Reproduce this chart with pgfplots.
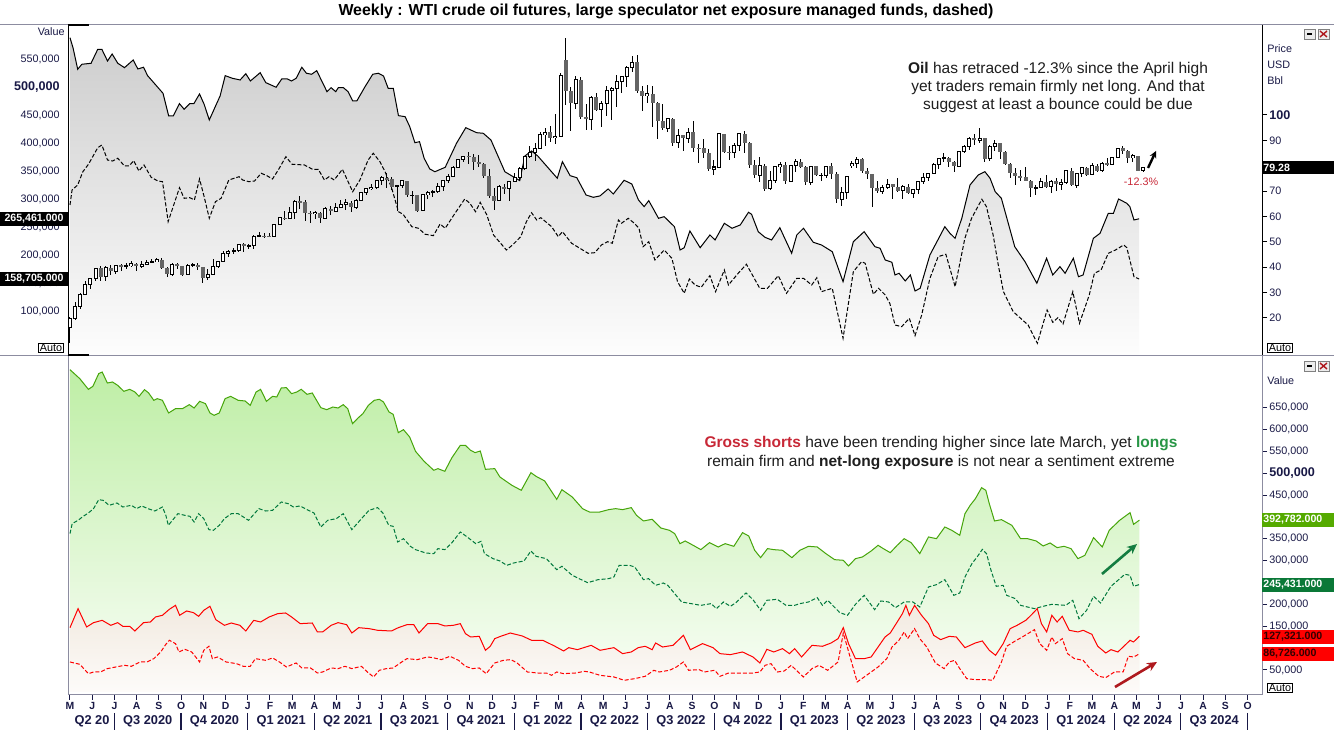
\documentclass[border=0pt]{standalone}
\usepackage{pgfplots}
\pgfplotsset{compat=1.18}
\usepackage{pgfplotstable}
\usetikzlibrary{arrows.meta}
\usepackage{fontspec}
\setmainfont{Liberation Sans}
\definecolor{navy}{RGB}{25,25,70}
\definecolor{fillTop}{RGB}{205,205,205}
\definecolor{fillBot}{RGB}{253,253,253}
\definecolor{gTop}{RGB}{190,238,165}
\definecolor{gBot}{RGB}{250,254,248}
\definecolor{rTop}{RGB}{242,234,224}
\definecolor{rBot}{RGB}{253,251,249}
\definecolor{glong}{RGB}{70,165,10}
\definecolor{gdash}{RGB}{0,120,60}
\definecolor{gbox}{RGB}{85,170,0}
\definecolor{gbox2}{RGB}{10,120,55}
\definecolor{annRed}{RGB}{200,40,55}
\definecolor{annGreen}{RGB}{40,150,70}
\definecolor{cgray}{RGB}{100,100,100}
\definecolor{frame}{RGB}{140,140,160}
\definecolor{annText}{RGB}{30,30,30}
\definecolor{arrRed}{RGB}{175,25,30}
\definecolor{arrGreen}{RGB}{20,125,65}
\newcommand{\ftick}{\fontsize{5.4pt}{6pt}\selectfont}
\newcommand{\fbig}{\fontsize{6.3pt}{7pt}\selectfont\bfseries}
\newcommand{\fmon}{\fontsize{5.2pt}{6pt}\selectfont\bfseries}
\newcommand{\fq}{\fontsize{6.4pt}{7pt}\selectfont\bfseries}
\newcommand{\fann}{\fontsize{7.75pt}{9pt}\selectfont}
\newcommand{\fannb}{\fontsize{7.75pt}{9.5pt}\selectfont}
\newcommand{\ftitle}{\fontsize{7.95pt}{9pt}\selectfont\bfseries}
\newcommand{\flab}{\fontsize{5.3pt}{6pt}\selectfont\bfseries}

\pgfplotstableread{
i o h l c
0 16.3 20.5 10.1 19.8
1 19.8 26.3 19.1 24.7
2 24.7 30.0 23.5 29.4
3 29.4 34.7 29.0 33.3
4 33.3 35.9 31.6 35.5
5 35.5 39.8 34.7 39.6
6 39.6 40.4 34.5 36.3
7 36.3 40.4 34.7 39.8
8 39.8 41.0 37.1 38.5
9 38.5 41.0 37.4 40.7
10 40.7 41.4 38.7 40.6
11 40.6 41.5 39.5 40.6
12 40.6 42.5 40.2 41.3
13 41.3 41.7 38.7 40.3
14 40.3 42.5 39.8 41.2
15 41.2 43.0 41.0 42.0
16 42.0 43.4 41.5 42.3
17 42.3 43.8 42.2 43.0
18 43.0 43.5 39.2 39.8
19 39.8 39.9 36.1 37.3
20 37.3 41.5 36.5 41.1
21 41.1 41.7 39.2 40.3
22 40.3 40.6 36.6 37.1
23 37.1 41.3 37.0 40.6
24 40.6 41.5 39.9 40.9
25 40.9 41.8 39.1 39.9
26 39.9 40.0 33.6 35.8
27 35.8 39.2 34.9 37.1
28 37.1 43.1 37.0 40.1
29 40.1 42.5 39.8 42.2
30 42.2 46.3 42.1 45.5
31 45.5 46.7 43.9 46.3
32 46.3 47.7 45.3 46.6
33 46.6 49.3 46.2 49.1
34 49.1 49.4 46.2 48.2
35 48.2 49.0 47.2 48.5
36 48.5 52.8 47.3 52.2
37 52.2 53.9 51.8 52.4
38 52.4 53.6 51.5 52.3
39 52.3 53.5 51.8 52.2
40 52.2 57.0 52.1 56.9
41 56.9 59.8 56.6 59.5
42 59.5 62.3 58.6 59.2
43 59.2 63.8 59.1 61.5
44 61.5 66.4 59.2 66.1
45 66.1 68.0 63.1 65.6
46 65.6 66.4 58.3 61.4
47 61.4 62.0 57.3 61.0
48 61.0 62.3 58.9 61.5
49 61.5 61.6 57.6 59.3
50 59.3 63.7 58.9 63.1
51 63.1 64.0 60.6 62.1
52 62.1 65.5 61.6 63.6
53 63.6 66.5 63.2 64.9
54 64.9 66.7 62.6 65.4
55 65.4 66.0 61.6 63.6
56 63.6 67.0 63.0 66.3
57 66.3 69.8 66.0 69.6
58 69.6 71.0 68.4 70.9
59 70.9 72.9 70.3 71.6
60 71.6 74.2 71.0 74.1
61 74.1 76.0 72.6 75.2
62 75.2 77.0 71.2 74.6
63 74.6 75.5 70.4 71.8
64 71.8 72.5 62.0 72.1
65 72.1 74.0 71.2 74.0
66 74.0 74.1 67.5 68.3
67 68.3 69.9 65.0 68.4
68 68.4 68.5 61.7 62.3
69 62.3 69.0 62.2 68.7
70 68.7 70.0 67.0 69.3
71 69.3 70.4 67.6 69.7
72 69.7 73.1 69.4 72.0
73 72.0 74.0 69.9 74.0
74 74.0 76.7 73.2 75.9
75 75.9 79.8 75.6 79.4
76 79.4 82.6 79.0 82.3
77 82.3 84.0 81.6 83.8
78 83.8 85.4 80.5 83.6
79 83.6 84.5 78.3 81.3
80 81.3 84.1 79.4 80.8
81 80.8 81.2 75.3 76.1
82 76.1 78.8 67.4 68.2
83 68.2 71.4 62.4 66.3
84 66.3 72.4 66.1 71.7
85 71.7 72.9 69.0 70.9
86 70.9 73.9 66.1 73.8
87 73.8 77.1 73.4 75.2
88 75.2 79.5 74.3 78.9
89 78.9 84.0 78.2 83.8
90 83.8 87.9 82.9 85.1
91 85.1 88.8 81.8 86.8
92 86.8 93.2 86.6 92.3
93 92.3 94.7 87.6 93.1
94 93.1 95.8 89.2 91.1
95 91.1 100.5 88.6 91.6
96 91.6 116.6 91.6 115.7
97 121.5 130.5 104.0 109.3
98 109.3 110.9 93.5 104.7
99 104.7 115.4 102.2 113.9
100 113.9 114.8 98.4 99.3
101 99.3 104.2 93.9 98.3
102 98.3 107.4 94.0 107.0
103 107.0 108.5 101.5 102.1
104 102.1 105.5 95.3 104.7
105 104.7 111.4 99.6 109.8
106 109.8 110.9 98.2 110.5
107 110.5 115.6 103.2 113.2
108 113.2 115.2 108.6 115.1
109 115.1 119.4 111.2 118.9
110 118.9 123.2 116.8 120.7
111 120.7 123.7 108.5 109.6
112 109.6 111.5 101.5 107.6
113 107.6 112.0 104.6 108.4
114 108.4 111.5 95.1 104.8
115 104.8 105.0 90.6 97.6
116 97.6 104.4 94.0 94.7
117 94.7 98.9 93.3 98.6
118 98.6 99.0 87.8 89.0
119 89.0 94.6 87.0 92.1
120 92.1 92.1 85.7 90.8
121 90.8 95.0 89.0 93.1
122 93.1 97.7 85.5 86.9
123 86.9 88.7 81.2 86.8
124 86.8 90.4 83.1 85.1
125 85.1 86.7 78.1 78.7
126 78.7 82.1 76.3 79.5
127 79.5 93.0 79.3 92.6
128 92.6 92.7 85.2 85.6
129 85.6 87.8 82.1 85.1
130 85.1 89.0 82.9 87.9
131 87.9 92.8 85.8 92.6
132 92.6 93.7 85.0 89.0
133 89.0 89.4 79.3 80.1
134 80.1 82.3 75.3 76.3
135 76.3 83.3 73.6 80.0
136 80.0 80.6 70.1 71.0
137 71.0 77.9 70.3 74.3
138 74.3 80.0 73.3 79.6
139 79.6 81.5 77.1 80.3
140 80.3 81.5 72.7 73.8
141 73.8 80.2 73.5 79.9
142 79.9 82.5 77.6 81.6
143 81.6 82.7 79.2 79.7
144 79.7 79.9 72.6 73.4
145 73.4 80.0 72.5 79.7
146 79.7 80.0 75.8 76.3
147 76.3 77.0 73.8 76.3
148 76.3 80.0 75.1 79.7
149 79.7 81.0 74.9 76.7
150 76.7 77.4 65.2 66.7
151 66.7 71.7 64.1 69.3
152 69.3 75.7 66.7 75.7
153 80.0 81.8 79.0 80.7
154 80.7 83.5 79.0 82.5
155 82.5 82.9 77.1 77.9
156 77.9 79.1 74.8 76.8
157 76.8 76.9 63.6 71.3
158 71.3 73.9 69.4 70.0
159 70.0 72.6 69.0 71.6
160 71.6 74.7 70.9 72.7
161 72.7 73.0 67.0 71.7
162 71.7 75.1 69.5 70.2
163 70.2 72.4 66.8 71.8
164 71.8 72.7 68.8 69.2
165 69.2 70.9 67.1 70.6
166 70.6 74.0 69.0 73.9
167 73.9 77.3 72.8 75.4
168 75.4 77.3 73.9 77.1
169 77.1 80.9 76.8 80.6
170 80.6 83.0 78.8 82.8
171 82.8 84.9 81.5 83.2
172 83.2 83.5 79.4 81.3
173 81.3 81.8 77.6 79.8
174 79.8 85.9 79.8 85.6
175 85.6 88.1 85.1 87.5
176 87.5 91.2 86.3 90.8
177 90.8 92.4 88.1 90.0
178 90.0 95.0 88.9 90.8
179 90.8 91.1 81.5 82.8
180 82.8 88.0 82.0 87.7
181 87.7 90.0 85.8 88.8
182 88.8 89.0 82.8 85.5
183 85.5 86.0 80.1 80.5
184 80.5 81.0 75.3 77.2
185 77.2 79.1 72.4 75.9
186 75.9 78.2 73.8 75.5
187 75.5 79.7 73.8 74.1
188 74.1 74.2 67.7 71.2
189 71.2 72.6 68.3 71.4
190 71.4 75.0 71.3 73.6
191 73.6 76.2 71.4 71.7
192 71.7 74.2 69.3 73.8
193 73.8 75.3 70.1 72.7
194 72.7 74.7 70.6 73.4
195 73.4 78.2 72.8 78.0
196 78.0 79.3 72.0 72.3
197 72.3 77.0 71.4 76.8
198 76.8 79.3 75.6 79.2
199 79.2 79.6 75.8 76.5
200 76.5 80.9 76.3 80.0
201 80.0 80.6 77.5 78.0
202 78.0 81.5 77.4 81.0
203 81.0 83.1 80.0 80.6
204 80.6 83.5 80.2 83.2
205 83.2 87.1 83.1 86.9
206 86.9 87.7 84.6 85.7
207 85.7 86.2 81.2 83.1
208 83.1 84.5 81.5 83.9
209 83.9 84.0 77.9 78.1
210 78.1 79.6 77.5 79.3
}\candles

\pgfplotstableread{
x v
0 588.9
0.6 570.5
1.5 532.5
2.3 541.4
4.1 543.2
5.4 568.2
6.2 568.2
7.3 547.3
8.2 559.8
9.3 543.2
10.6 535.4
12.3 549.1
13.2 533.0
14.3 536.1
15.1 521.1
18.1 489.6
19.2 449.1
20.1 449.1
21.3 471.1
22.2 461.1
23.3 471.1
24.1 471.1
25.2 488.4
26.1 470.0
27.1 442.0
29.2 484.8
30.2 521.1
31.6 516.4
33.1 513.4
34.2 524.6
35.1 511.6
37.0 526.4
38.1 508.6
40.1 500.4
41.2 515.2
42.3 515.2
43.1 511.6
44.0 516.4
45.1 536.1
46.0 525.4
47.0 523.6
48.0 530.0
50.0 492.5
50.8 499.6
51.7 492.5
52.2 499.6
53.2 499.6
54.1 492.5
55.0 475.9
55.8 475.9
57.4 501.4
58.9 523.6
60.0 525.4
61.0 520.5
61.9 498.6
62.9 498.6
63.9 449.7
65.2 447.9
66.1 430.0
67.1 401.4
68.0 403.2
68.9 373.6
70.0 354.4
71.0 349.6
73.0 357.5
75.2 400.4
77.0 428.2
79.1 419.3
80.4 418.2
81.9 406.2
84.6 349.6
87.5 333.6
88.5 377.7
89.8 386.6
91.0 377.7
93.1 355.7
94.8 337.9
95.8 367.5
97.3 342.5
98.6 338.9
100.4 308.0
101.8 303.9
103.1 306.3
104.7 318.8
105.7 309.8
107.8 334.3
109.3 327.7
110.6 299.1
111.7 287.2
112.6 297.9
114.5 266.4
115.6 269.3
117.6 251.4
118.7 209.8
119.5 213.9
120.6 243.8
122.6 213.9
124.5 236.6
125.5 227.7
127.3 257.5
128.8 248.6
130.4 254.5
132.0 277.1
132.6 273.6
133.9 242.5
135.2 232.5
136.5 227.7
138.1 249.6
140.4 204.0
141.4 236.6
142.7 248.6
144.6 223.6
146.2 218.8
148.3 206.8
150.4 153.2
152.4 224.6
154.5 242.5
156.6 215.7
157.6 212.9
158.6 192.0
159.9 187.9
160.5 165.2
161.3 168.2
162.5 154.5
163.5 165.2
164.4 136.6
165.4 141.4
167.3 200.9
170.2 251.4
171.2 239.6
172.2 230.7
173.5 266.4
175.1 325.9
176.7 343.7
178.0 349.6
179.0 337.9
180.0 313.9
181.2 302.1
183.8 215.7
185.8 188.9
188.1 150.4
190.0 195.0
191.2 165.2
192.6 180.0
193.6 168.2
195.2 195.0
196.2 162.1
197.1 165.2
199.1 230.7
200.4 239.6
202.0 275.3
203.0 275.3
204.0 300.9
205.6 293.2
206.2 287.2
207.0 263.4
208.0 265.5
}\netsolid

\pgfplotstableread{
x v
0 290.2
0.4 317.0
1.5 325.9
2.5 349.6
3.6 362.9
5.4 392.5
6.2 397.3
7.3 370.5
8.3 368.7
9.3 373.6
10.6 359.8
11.5 359.8
12.4 369.3
13.4 350.9
14.4 361.6
15.8 339.6
17.1 333.0
18.0 331.8
19.1 260.4
21.3 321.1
22.2 302.1
23.3 303.2
24.2 299.1
25.2 336.6
26.1 305.0
27.1 266.4
28.3 296.1
29.4 302.1
30.9 334.8
32.9 340.7
33.6 334.8
34.8 331.8
35.9 333.0
37.2 346.8
38.3 342.5
39.4 336.6
40.6 353.9
42.0 376.4
43.2 362.9
45.6 361.6
47.2 353.9
48.3 353.9
49.5 334.8
50.4 340.7
51.4 334.8
53.0 353.9
53.8 337.9
55.0 313.9
56.4 334.8
58.0 370.5
59.0 382.5
60.3 367.5
61.3 349.6
62.6 320.0
63.9 278.2
64.8 273.6
66.5 251.4
67.8 248.6
69.1 237.9
70.7 235.4
72.0 256.2
73.0 248.6
74.9 275.3
76.8 300.9
77.8 293.2
78.9 278.2
79.8 295.0
81.1 272.3
82.4 236.6
84.9 209.8
86.1 218.8
87.7 233.6
88.8 260.4
89.8 276.4
90.8 263.4
91.6 267.5
93.7 251.4
95.0 233.6
95.8 242.5
97.6 221.8
100.8 203.9
102.1 205.0
103.4 218.8
104.6 224.6
105.5 221.8
106.7 263.4
107.3 257.5
108.6 266.4
109.8 257.5
110.7 248.6
111.5 215.7
112.6 224.6
113.8 192.0
115.6 209.8
117.1 195.0
118.2 153.2
119.5 132.5
120.5 158.0
121.6 147.3
122.8 143.2
124.5 164.0
125.6 135.4
127.3 174.1
128.1 147.3
130.0 168.2
131.6 184.3
134.2 141.4
135.7 141.4
137.8 164.0
139.4 132.5
141.4 159.3
142.7 159.3
144.3 147.3
145.3 160.3
146.2 135.4
148.3 141.4
150.4 52.2
152.4 171.1
154.0 188.9
154.7 186.1
156.3 130.7
157.3 141.4
158.6 129.5
159.5 114.6
160.5 75.9
161.8 72.9
163.3 87.8
164.4 56.8
165.7 93.8
167.3 159.3
168.9 197.9
170.4 202.2
172.2 144.3
174.1 230.7
175.4 266.4
177.4 300.4
178.3 287.2
179.6 236.6
180.6 183.0
181.6 135.4
183.5 99.7
186.4 75.9
188.2 43.2
190.1 102.7
191.2 80.7
192.2 88.9
193.2 77.7
195.1 135.4
196.4 78.9
198.3 129.5
199.3 168.2
200.6 174.1
202.0 203.9
203.4 209.8
205.0 218.8
205.6 214.0
207.0 162.1
208.0 158.0
}\netdash

\pgfplotstableread{
x v
0 737.0
1.92 716.4
3.6 692.0
4.48 698.9
5.62 727.9
6.3 731.7
7.31 706.5
8.32 708.8
9.33 701.2
10.54 687.5
11.69 692.0
12.7 685.9
13.51 676.0
14.58 691.3
15.39 683.7
16.4 666.9
17.08 670.7
18.09 666.9
19.3 637.9
20.65 647.8
22.0 647.8
23.35 657.0
24.29 649.3
25.37 664.6
26.51 659.3
27.39 637.9
28.2 632.6
29.21 637.9
30.35 670.7
31.43 676.0
32.92 666.9
34.26 665.4
35.27 655.4
36.42 685.9
37.3 692.0
38.44 664.6
39.65 676.0
40.46 674.5
41.34 695.1
42.35 695.9
43.36 682.1
44.37 685.9
45.25 692.0
46.39 680.6
47.41 683.7
49.09 650.1
50.23 645.5
51.45 651.6
52.46 649.3
53.47 657.0
54.35 647.8
55.29 613.5
56.37 626.5
57.31 636.4
58.39 655.4
59.53 666.9
60.54 669.2
61.35 663.1
62.43 640.2
63.24 634.9
64.25 592.9
65.26 599.8
66.47 583.0
67.62 550.2
69.3 527.3
71.19 506.8
72.0 510.6
73.35 504.5
74.7 534.9
76.38 563.9
77.39 563.9
78.4 552.5
79.28 547.2
80.29 551.0
81.3 509.0
83.12 510.6
84.13 491.5
86.49 472.4
88.31 461.0
90.2 501.4
91.21 493.0
92.89 482.4
95.25 440.4
96.26 462.5
98.28 445.8
100.3 419.1
101.65 411.4
103.67 411.4
105.42 416.8
106.78 419.1
108.14 416.8
109.84 421.4
110.86 403.8
112.22 390.9
113.92 394.7
115.62 374.8
117.32 369.5
118.34 361.9
119.36 339.0
120.38 345.1
121.95 335.2
123.45 325.3
125.15 341.3
126.85 331.4
128.21 339.0
129.91 332.9
131.61 364.2
132.83 356.5
133.99 323.8
135.15 307.0
136.5 327.6
137.73 325.3
139.43 323.8
141.27 307.0
142.83 323.8
144.53 332.9
146.23 331.4
147.93 316.1
149.63 302.4
151.33 300.9
152.35 287.9
153.71 304.7
155.07 308.5
156.78 322.2
158.14 335.2
159.16 327.6
160.52 318.4
161.88 335.2
163.24 350.4
164.6 341.3
166.3 316.1
168.0 354.3
169.56 350.4
171.2 377.1
172.56 369.5
174.12 358.1
175.14 407.6
176.16 426.7
177.18 441.9
178.4 467.1
179.22 461.0
179.9 430.5
180.92 390.9
182.28 393.9
184.32 380.9
186.02 350.4
187.38 350.4
189.08 345.1
190.44 333.7
191.8 340.5
193.17 329.9
194.53 332.9
195.89 327.6
197.25 304.7
198.61 312.3
200.31 352.7
202.01 331.4
203.37 369.5
205.41 392.4
207.45 409.9
208.13 383.2
209.28 392.8
}\glong

\pgfplotstableread{
x v
0 361.9
0.43 384.8
1.58 392.4
2.59 401.5
3.6 409.2
4.61 419.1
5.62 439.6
6.5 438.1
7.64 426.7
9.19 432.0
10.34 422.9
12.02 426.7
13.04 419.1
14.05 425.2
15.26 419.1
16.61 413.7
18.09 422.9
18.76 403.8
19.24 380.9
21.12 407.6
22.47 403.8
23.48 401.5
24.29 388.6
25.17 407.6
26.18 396.2
27.19 371.0
28.06 369.5
29.21 380.9
30.22 396.2
31.57 407.6
32.92 407.6
34.94 392.4
36.96 419.1
38.31 413.7
39.65 415.3
41.34 434.3
42.69 430.5
43.7 422.9
45.05 425.2
46.39 416.8
47.74 409.2
49.09 377.1
50.44 392.4
52.12 396.2
53.47 407.6
55.15 371.0
57.04 396.2
58.52 415.3
60.21 421.4
61.22 409.2
62.37 380.9
63.24 378.6
64.12 342.8
65.26 350.4
66.61 332.9
67.62 325.3
69.64 317.6
71.19 316.1
72.0 327.6
73.35 325.3
74.7 340.5
76.38 365.7
77.73 354.3
79.41 339.0
80.43 344.3
81.1 316.1
82.78 304.7
84.13 299.4
85.48 289.4
86.83 294.8
88.85 299.4
90.2 322.2
91.21 310.0
93.23 304.7
95.25 279.5
96.26 287.2
98.28 266.6
99.63 258.9
101.31 249.8
103.34 256.6
105.42 258.9
106.44 262.8
107.46 289.4
109.5 289.4
110.52 285.6
112.22 256.6
113.24 258.9
114.6 243.7
116.1 249.0
116.98 243.7
118.34 224.6
119.7 205.6
123.45 197.9
125.49 201.8
126.51 190.3
127.87 205.6
129.23 195.7
130.25 203.3
132.29 226.2
133.65 210.9
135.15 186.5
136.37 209.4
138.41 211.7
140.11 197.9
141.81 197.9
142.83 201.8
144.53 205.6
146.23 215.5
147.25 197.9
148.27 209.4
150.65 181.2
152.15 175.1
153.71 200.2
155.42 220.8
157.46 188.0
158.68 207.9
160.18 205.6
161.54 192.6
163.24 205.6
164.94 205.6
166.3 194.1
168.0 239.9
169.56 245.2
171.2 256.6
172.96 220.8
174.12 226.2
175.14 262.8
176.5 293.3
177.52 308.5
178.54 326.0
179.36 316.1
180.24 278.0
181.26 241.4
182.62 243.7
183.3 220.8
185.0 213.2
186.02 197.9
188.74 190.3
190.44 195.7
192.14 200.2
194.87 197.9
196.23 209.4
197.45 167.4
198.95 186.5
200.31 218.5
201.67 203.3
203.71 241.4
206.43 268.9
207.45 266.6
208.13 241.4
209.28 245.4
}\gdashd

\pgfplotstableread{
x v
0 146.8
1.58 190.3
3.26 148.4
4.61 158.3
6.3 163.6
7.98 152.2
9.33 158.3
10.34 149.9
11.69 149.9
12.7 139.2
14.38 158.3
15.73 159.8
16.74 171.3
18.09 175.1
19.44 188.8
20.65 197.9
21.46 175.1
22.81 185.0
24.15 181.2
25.17 172.8
26.18 186.5
27.39 195.7
28.53 165.1
30.22 152.2
31.57 157.5
33.25 152.2
34.4 139.2
35.95 163.6
37.3 159.8
38.98 171.3
40.66 178.9
42.21 180.4
43.36 171.3
45.05 156.0
47.41 157.5
48.42 136.9
49.43 136.9
51.11 152.2
52.46 158.3
54.14 153.7
55.15 134.6
56.5 146.8
58.52 144.6
60.21 140.8
62.9 139.2
64.25 146.8
65.94 153.7
67.28 153.7
68.3 134.6
69.98 156.0
72.0 156.0
73.35 150.7
75.03 152.2
76.38 156.0
77.39 133.1
78.4 125.5
80.09 127.0
81.3 95.0
82.24 104.2
83.12 121.7
84.27 127.0
86.16 134.6
88.51 127.8
90.33 117.9
92.55 117.9
94.91 104.2
96.6 93.5
97.61 101.1
99.29 96.5
101.99 106.4
103.72 95.0
106.44 101.1
108.14 87.4
109.84 91.2
111.2 101.1
112.56 104.2
113.92 96.5
114.6 111.8
115.96 102.6
118.0 106.4
120.04 129.3
121.4 96.5
123.79 110.3
125.83 101.1
127.19 87.4
129.23 85.1
131.61 91.2
133.65 79.8
135.01 66.0
136.37 97.3
137.73 91.2
139.43 98.8
140.79 87.4
141.81 98.8
143.17 79.8
145.21 106.4
147.25 104.2
148.95 111.8
150.31 121.7
151.33 146.8
152.35 110.3
153.71 75.9
155.42 75.9
156.78 79.8
158.14 102.6
159.5 125.5
160.52 134.6
161.88 159.8
162.9 178.9
163.58 197.9
164.26 175.1
165.28 197.9
166.64 175.1
168.0 156.0
169.02 129.3
170.38 119.4
172.08 127.0
173.44 125.5
175.14 101.1
177.18 111.8
178.54 116.4
179.9 95.0
181.13 83.6
182.62 110.3
183.98 144.6
185.34 152.2
187.04 163.6
188.06 175.1
189.29 190.3
190.1 156.0
191.13 137.0
192.14 175.1
193.17 159.8
194.19 172.8
195.55 140.8
197.25 137.0
198.27 140.8
199.97 131.6
201.13 104.2
202.69 88.9
203.71 96.5
205.07 91.2
207.45 117.9
208.13 114.1
209.28 127.3
}\rshort

\pgfplotstableread{
x v
0 68.3
1.92 63.0
3.6 41.6
4.61 45.4
5.96 45.4
7.31 53.1
8.99 56.9
10.68 60.7
12.02 58.4
13.71 68.3
15.06 68.3
16.4 75.9
17.75 91.2
18.76 108.7
19.44 117.9
20.65 110.3
21.32 91.2
22.47 97.3
23.82 91.2
25.37 68.3
26.18 95.0
27.19 104.2
27.86 75.9
28.87 79.8
30.56 68.3
32.58 64.5
33.93 58.4
35.27 58.4
36.28 75.9
38.31 72.1
39.65 77.5
41.0 68.3
42.35 56.9
44.24 66.0
45.38 54.6
47.07 54.6
48.42 43.1
49.43 45.4
51.11 54.6
52.46 53.1
53.81 58.4
55.15 53.1
57.04 58.4
58.19 45.4
59.4 34.0
60.54 49.3
61.89 53.1
63.24 54.6
64.92 68.3
65.94 75.9
67.96 73.7
69.98 79.8
70.99 78.2
72.67 73.7
74.36 81.3
76.04 72.1
77.39 58.4
78.74 53.1
80.09 54.6
81.44 41.6
83.12 66.0
84.8 72.1
86.29 73.7
87.5 66.0
89.52 45.4
91.54 43.1
93.23 43.1
94.24 37.8
95.25 45.4
96.6 41.6
98.96 43.1
100.64 46.9
101.65 45.4
103.72 37.8
106.44 34.0
108.48 26.4
110.52 30.2
112.56 35.5
114.26 49.3
115.28 45.4
117.32 49.3
118.68 56.9
120.04 68.3
121.06 49.3
123.11 50.8
124.13 45.4
126.17 49.3
127.19 35.5
128.89 43.1
130.93 43.1
133.65 43.1
135.01 45.4
136.03 60.7
137.19 64.5
138.41 45.4
139.77 47.7
141.13 60.7
142.15 49.3
143.51 34.0
145.21 53.1
146.57 60.7
148.27 49.3
150.31 68.3
151.33 134.6
154.05 22.6
155.42 34.0
156.78 45.4
158.14 56.9
159.84 75.9
160.86 102.6
162.22 117.9
163.24 137.0
163.92 121.7
165.28 144.6
166.3 121.7
167.66 102.6
169.36 66.0
171.06 53.1
172.08 68.3
173.1 72.1
174.12 53.1
175.48 30.2
177.18 27.9
179.22 27.9
180.58 26.4
182.28 68.3
183.3 104.2
184.66 114.1
186.36 125.5
188.74 142.3
189.76 110.3
191.13 95.0
192.14 125.5
192.83 110.3
194.19 121.7
195.21 87.4
196.57 75.9
198.27 72.1
199.63 53.1
201.33 35.5
202.69 32.5
204.39 45.4
206.09 45.4
207.11 81.3
208.13 79.8
209.28 86.7
}\rdash

\begin{document}
\begin{tikzpicture}
\path[use as bounding box] (0,0) rectangle (667pt,365.5pt);
\fill[white] (0,0) rectangle (667pt,365.5pt);

% ---------- top panel: net positions (left scale)
\begin{axis}[at={(34pt,188pt)}, anchor=south west, scale only axis,
  width=597pt, height=165pt,
  xmin=-0.39, xmax=233.27, ymin=22.33, ymax=611.6,
  axis line style={draw=none}, xtick=\empty,
  ytick={100,150,...,550},
  yticklabels={{100,000},{150,000},{200,000},{250,000},{300,000},{350,000},{400,000},{450,000},{\fbig 500,000},{550,000}},
  ytick pos=left, major tick length=0pt,
  yticklabel style={font=\ftick, text=navy, anchor=east, inner sep=0pt, xshift=-4pt}]
\addplot[draw=none, top color=fillTop, bottom color=fillBot] table[x expr=\thisrow{x}*1.00587, y=v] {\netsolid} \closedcycle;
\addplot[black, line width=0.5pt] table[x expr=\thisrow{x}*1.00587, y=v] {\netsolid};
\addplot[black, line width=0.5pt, dash pattern=on 2pt off 1pt] table[x expr=\thisrow{x}*1.00587, y=v] {\netdash};
\end{axis}

% ---------- top panel: price candles (right scale)
\begin{axis}[at={(34pt,188pt)}, anchor=south west, scale only axis,
  width=597pt, height=165pt,
  xmin=-0.39, xmax=233.27, ymin=5.42, ymax=135.47,
  axis line style={draw=none}, xtick=\empty,
  ytick={20,30,40,50,60,70,90,100},
  yticklabels={20,30,40,50,60,70,90,{\fbig 100}},
  extra y ticks={80}, extra y tick labels={},
  ytick pos=right, tick align=outside, major tick length=2.5pt,
  tick style={black, line width=0.5pt},
  yticklabel style={font=\ftick, text=navy, anchor=west, inner sep=0pt, xshift=1pt}]
\addplot[draw=none, mark=none, error bars/.cd, y dir=both, y explicit, error mark=none,
  error bar style={draw=black, line width=0.5pt, solid}]
  table[x=i, y expr={(\thisrow{h}+\thisrow{l})/2}, y error expr={(\thisrow{h}-\thisrow{l})/2}] {\candles};
\addplot[draw=none, mark=none, error bars/.cd, y dir=both, y explicit, error mark=none,
  error bar style={draw=black, line width=2pt, solid}]
  table[x=i, y expr={(\thisrow{o}+\thisrow{c})/2}, y error expr={max((\thisrow{c}-\thisrow{o})/2+0.2,0)}] {\candles};
\addplot[draw=none, mark=none, error bars/.cd, y dir=both, y explicit, error mark=none,
  error bar style={draw=white, line width=1pt, solid}]
  table[x=i, y expr={(\thisrow{o}+\thisrow{c})/2}, y error expr={max((\thisrow{c}-\thisrow{o})/2-0.2,0)}] {\candles};
\addplot[draw=none, mark=none, error bars/.cd, y dir=both, y explicit, error mark=none,
  error bar style={draw=cgray, line width=2pt, solid}]
  table[x=i, y expr={(\thisrow{o}+\thisrow{c})/2}, y error expr={max((\thisrow{o}-\thisrow{c})/2,0)}] {\candles};
\end{axis}

% ---------- bottom panel: gross positions
\begin{axis}[at={(34pt,18pt)}, anchor=south west, scale only axis,
  width=597pt, height=169.5pt,
  xmin=-0.39, xmax=233.27, ymin=-7.2, ymax=768.3,
  axis line style={draw=none},
  ytick={50,150,200,300,350,450,500,550,600,650},
  yticklabels={{50,000},{150,000},{200,000},{300,000},{350,000},{450,000},{\fbig 500,000},{550,000},{600,000},{650,000}},
  extra y ticks={100,250,400}, extra y tick labels={},
  ytick pos=right, xtick pos=bottom, tick align=outside, major tick length=2.5pt,
  tick style={navy, line width=0.5pt},
  yticklabel style={font=\ftick, text=navy, anchor=west, inner sep=0pt, xshift=1pt},
  xtick={0,4.348,...,230.5},
  xticklabels={M,J,J,A,S,O,N,D,J,F,M,A,M,J,J,A,S,O,N,D,J,F,M,A,M,J,J,A,S,O,N,D,J,F,M,A,M,J,J,A,S,O,N,D,J,F,M,A,M,J,J,A,S,O},
  xticklabel style={font=\fmon, text=navy, anchor=north, inner sep=0pt, yshift=-1pt}]
\addplot[draw=none, top color=gTop, bottom color=gBot] table[x=x, y=v] {\glong} \closedcycle;
\addplot[draw=none, top color=rTop, bottom color=rBot] table[x=x, y=v] {\rshort} \closedcycle;
\addplot[glong, line width=0.5pt] table[x=x, y=v] {\glong};
\addplot[gdash, line width=0.5pt, dash pattern=on 2pt off 1pt] table[x=x, y=v] {\gdashd};
\addplot[red, line width=0.5pt] table[x=x, y=v] {\rshort};
\addplot[red, line width=0.5pt, dash pattern=on 2pt off 1pt] table[x=x, y=v] {\rdash};
\end{axis}

% ---------- decorations in pixel coordinates
\begin{scope}[x=0.5pt, y=-0.5pt, yshift=365.5pt]
\node[font=\ftitle] at (666,11) {Weekly : WTI crude oil futures, large speculator net exposure managed funds, dashed)};
\draw[frame, line width=0.5pt] (0,25) -- (1334,25);
\draw[frame, line width=0.5pt] (0,355.5) -- (1334,355.5);
\draw[frame, line width=0.5pt] (68,695) -- (1262,695);
\draw[frame, line width=0.5pt] (68,356) -- (68,695);
\draw[frame, line width=0.5pt] (1262,356) -- (1262,695);
\draw[black, line width=0.5pt] (68,25) -- (68,355);
\draw[black, line width=0.5pt] (1262,25) -- (1262,355);
\draw[black, line width=1pt] (68,25) -- (89,25);
\draw[black, line width=1pt] (68,355) -- (89,355);
% scale names
\node[font=\ftick, text=navy, anchor=east, inner sep=0pt] at (65,32) {Value};
\node[font=\ftick, text=navy, anchor=west, inner sep=0pt] at (1267,49) {Price};
\node[font=\ftick, text=navy, anchor=west, inner sep=0pt] at (1267,65) {USD};
\node[font=\ftick, text=navy, anchor=west, inner sep=0pt] at (1267,81) {Bbl};
\node[font=\ftick, text=navy, anchor=west, inner sep=0pt] at (1267,381) {Value};
% Auto boxes
\node[draw=black, font=\ftick, inner sep=0.6pt, line width=0.5pt] at (51,348) {Auto};
\node[draw=black, font=\ftick, inner sep=0.6pt, line width=0.5pt] at (1280,348) {Auto};
\node[draw=black, font=\ftick, inner sep=0.6pt, line width=0.5pt] at (1280,688) {Auto};
% window icons
\foreach \yy in {29,361} {
  \draw[gray, fill=gray!15, line width=0.4pt] (1304,\yy) rectangle (1315,\yy+10);
  \draw[black, line width=0.6pt] (1307,\yy+5) -- (1312,\yy+5);
  \draw[gray, fill=gray!15, line width=0.4pt] (1318,\yy) rectangle (1329,\yy+10);
  \draw[arrRed, line width=0.7pt] (1320,\yy+2) -- (1327,\yy+8) (1320,\yy+8) -- (1327,\yy+2);
}
% last-value boxes
\fill[black] (0,212) rectangle (68,226);
\node[text=white, font=\flab, inner sep=0pt] at (34,219) {265,461.000};
\fill[black] (0,272) rectangle (68,286);
\node[text=white, font=\flab, inner sep=0pt] at (34,279) {158,705.000};
\fill[black] (1262,161) rectangle (1334,174);
\node[text=white, font=\flab, inner sep=0pt, anchor=west] at (1263,167.5) {79.28};
\fill[gbox] (1262,513) rectangle (1334,527);
\node[text=white, font=\flab, inner sep=0pt, anchor=west] at (1263,520) {392,782.000};
\fill[gbox2] (1262,578) rectangle (1334,592);
\node[text=white, font=\flab, inner sep=0pt, anchor=west] at (1263,585) {245,431.000};
\fill[red] (1262,630) rectangle (1334,644);
\node[text=black!80!red, font=\flab, inner sep=0pt, anchor=west] at (1263,637) {127,321.000};
\fill[red] (1262,647) rectangle (1334,661);
\node[text=black!80!red, font=\flab, inner sep=0pt, anchor=west] at (1263,654) {86,726.000};
% annotations
\node[font=\fann, align=center, text=annText] at (1058,88) {\textbf{Oil} has retraced -12.3\% since the April high\\yet traders remain firmly net long. And that\\suggest at least a bounce could be due};
\node[font=\ftick, text=annRed] at (1141,182) {-12.3\%};
\draw[black, line width=1.2pt, -{Stealth[length=3.5pt,width=3.5pt]}] (1148,168) -- (1156,151);
\node[font=\fannb, align=center, text=annText] at (941,453) {\textcolor{annRed}{\textbf{Gross shorts}} have been trending higher since late March, yet \textcolor{annGreen}{\textbf{longs}}\\remain firm and \textbf{net-long exposure} is not near a sentiment extreme};
\draw[arrGreen, line width=1.3pt, -{Stealth[length=5pt,width=4.5pt]}] (1102,574) -- (1137,544);
\draw[arrRed, line width=1.3pt, -{Stealth[length=5pt,width=4.5pt]}] (1115,687) -- (1157,662);
% quarter labels and separators
\node[font=\fq, text=navy] at (92,721) {Q2 20};
\foreach \q [count=\k from 0] in {Q3 2020,Q4 2020,Q1 2021,Q2 2021,Q3 2021,Q4 2021,Q1 2022,Q2 2022,Q3 2022,Q4 2022,Q1 2023,Q2 2023,Q3 2023,Q4 2023,Q1 2024,Q2 2024,Q3 2024}
  \node[font=\fq, text=navy] at ({147.8+66.65*\k},721) {\q};
\foreach \k in {0,...,17}
  \draw[navy, line width=0.6pt] ({114.4+66.65*\k},713) -- ++(0,17);
\end{scope}
\end{tikzpicture}
\end{document}
